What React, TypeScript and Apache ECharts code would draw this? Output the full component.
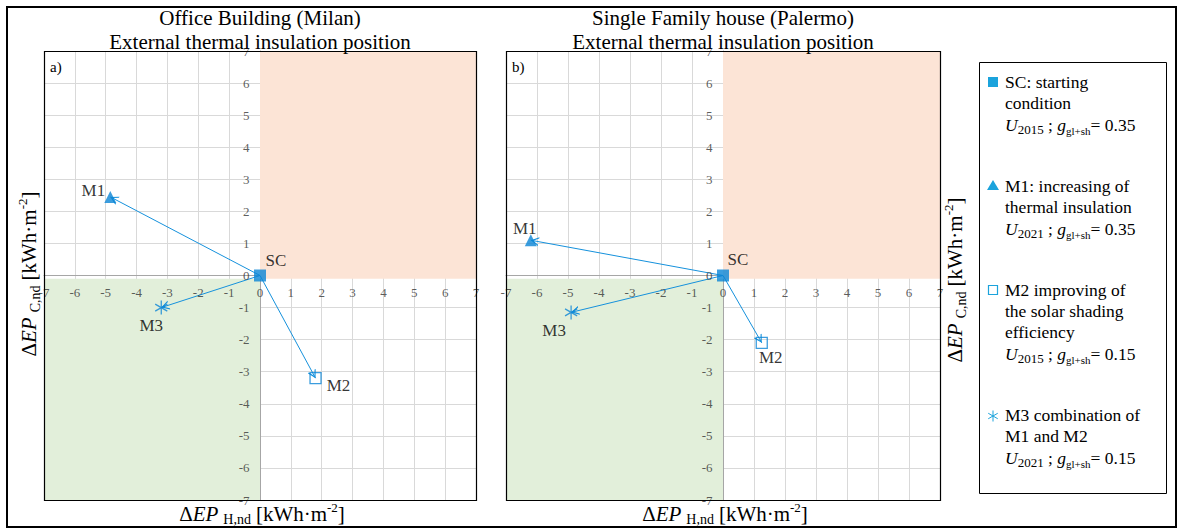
import React, { useEffect, useRef } from 'react';
import * as echarts from 'echarts';

// ---------- data ----------
const pointNames = ['SC', 'M1', 'M2', 'M3'];
const milanX = [0, -4.85, 1.8, -3.2];
const milanY = [0, 2.45, -3.2, -1.0];
const palermoX = [0, -6.2, 1.25, -4.9];
const palermoY = [0, 1.1, -2.1, -1.15];
const axisMin = -7;
const axisMax = 7;
const axisStep = 1;
const tickValues = [-7, -6, -5, -4, -3, -2, -1, 0, 1, 2, 3, 4, 5, 6, 7];
const panelTitles = [
  ['Office Building (Milan)', 'External thermal insulation position'],
  ['Single Family house (Palermo)', 'External thermal insulation position'],
];
const panelTags = ['a)', 'b)'];
const legendTexts = [
  ['SC: starting', 'condition'],
  ['M1: increasing of', 'thermal insulation'],
  ['M2 improving of', 'the solar shading', 'efficiency'],
  ['M3 combination of', 'M1 and M2'],
];
const legendU = ['2015', '2021', '2015', '2021'];
const legendG = ['0.35', '0.35', '0.15', '0.15'];

// ---------- styles / layout ----------
const SERIF = "'Liberation Serif', 'Times New Roman', serif";
const MARK = '#0a84d6';
const LINE = '#1591dc';
const LEG = '#1ba3dc';
const PINK = '#fce4d6';
const GREEN = '#e2efda';

const grids = [
  { left: 44, top: 51, width: 432, height: 449 },
  { left: 506, top: 51, width: 434, height: 449 },
];
const titleCenters = [260, 723];
const labelOffsets = [
  [[16, -15], [-17, -6], [23, 7], [-10, 18]],
  [[15, -16], [-6, -12], [9, 15], [-17, 18]],
];
const yTitlePos = [[29, 274], [955, 280]];
const legendBlockY = [82, 186, 290, 415];

function asteriskPath(r: number, w: number): string {
  const angles = [90, 30, 150];
  let d = '';
  for (const a of angles) {
    const t = (a * Math.PI) / 180;
    const dx = Math.cos(t), dy = Math.sin(t);
    const nx = -dy * (w / 2), ny = dx * (w / 2);
    const p = [
      [r * dx + nx, r * dy + ny],
      [r * dx - nx, r * dy - ny],
      [-r * dx - nx, -r * dy - ny],
      [-r * dx + nx, -r * dy + ny],
    ];
    d += 'M' + p.map((q) => q[0].toFixed(3) + ',' + q[1].toFixed(3)).join(' L') + ' Z ';
  }
  return 'path://' + d;
}

// open arrow head, tip at the centre of a 16x16 box
const ARROW =
  'path://M0,0 L0.01,0 L0,0.01 Z M16,0 L15.99,0 L16,0.01 Z M8,8 L12.5,16 L11.2,16 L8,10.3 L4.8,16 L3.5,16 Z';

const pointSymbols = ['rect', 'triangle', 'rect', asteriskPath(6, 1.1)];
const pointSizes = [12, 12, 11, 14];

const tickLabelStyle = {
  fontSize: 13,
  fontFamily: SERIF,
  color: '#333333',
};

function buildOption(): any {
  const panelsData = [
    [milanX, milanY],
    [palermoX, palermoY],
  ];
  const series: any[] = [];
  const xAxes: any[] = [];
  const yAxes: any[] = [];
  const graphic: any[] = [];

  panelsData.forEach(([xs, ys], p) => {
    const g = grids[p];
    const axisCommon = {
      type: 'value',
      gridIndex: p,
      min: axisMin,
      max: axisMax,
      interval: axisStep,
      axisTick: { show: false },
      axisLabel: { show: false },
      splitLine: { show: true, lineStyle: { color: '#d9d9d9', width: 1 } },
      axisLine: { show: true, onZero: true, lineStyle: { color: '#a6a6a6', width: 1 } },
    };
    xAxes.push({ ...axisCommon });
    yAxes.push({ ...axisCommon });

    // shaded quadrants
    series.push({
      type: 'line',
      xAxisIndex: p,
      yAxisIndex: p,
      data: [[0, 0]],
      showSymbol: false,
      symbol: 'none',
      lineStyle: { width: 0 },
      silent: true,
      z: -1,
      markArea: {
        silent: true,
        data: [
          [{ xAxis: 0, yAxis: -0.1, itemStyle: { color: PINK } }, { xAxis: axisMax, yAxis: axisMax }],
          [{ xAxis: axisMin, yAxis: axisMin, itemStyle: { color: GREEN } }, { xAxis: 0, yAxis: -0.1 }],
        ],
      },
    });

    // tick labels along the zero lines
    series.push({
      type: 'scatter',
      xAxisIndex: p,
      yAxisIndex: p,
      silent: true,
      symbolSize: 1,
      itemStyle: { color: 'rgba(0,0,0,0)' },
      label: { show: true, position: 'bottom', distance: 10, formatter: (d: any) => String(d.value[0]), ...tickLabelStyle },
      z: 3,
      data: tickValues.map((v) => [v, 0]),
    });
    series.push({
      type: 'scatter',
      xAxisIndex: p,
      yAxisIndex: p,
      silent: true,
      symbolSize: 1,
      itemStyle: { color: 'rgba(0,0,0,0)' },
      label: { show: true, position: 'left', distance: 10, formatter: (d: any) => String(d.value[1]), ...tickLabelStyle },
      z: 3,
      data: tickValues.map((v) => [0, v]),
    });

    // arrows from SC to each measure
    series.push({
      type: 'lines',
      coordinateSystem: 'cartesian2d',
      xAxisIndex: p,
      yAxisIndex: p,
      silent: true,
      symbol: ['none', ARROW],
      symbolSize: 16,
      lineStyle: { color: LINE, width: 1, opacity: 1, curveness: 0 },
      data: xs.slice(1).map((x, i) => ({
        coords: [
          [xs[0], ys[0]],
          [x, ys[i + 1]],
        ],
      })),
    });

    // points
    pointNames.forEach((name, i) => {
      const hollow = i === 2;
      series.push({
        type: 'scatter',
        name,
        xAxisIndex: p,
        yAxisIndex: p,
        symbol: pointSymbols[i],
        symbolSize: pointSizes[i],
        symbolKeepAspect: true,
        itemStyle: hollow
          ? { color: 'rgba(255,255,255,0)', borderColor: MARK, borderWidth: 1.3 }
          : { color: MARK },
        label: {
          show: true,
          formatter: name,
          position: 'inside',
          offset: labelOffsets[p][i],
          fontSize: 17,
          fontFamily: SERIF,
          color: '#000',
        },
        z: 4,
        data: [[xs[i], ys[i]]],
      });
    });

    // titles
    panelTitles[p].forEach((t, k) => {
      graphic.push({
        type: 'text',
        x: titleCenters[p],
        y: 18 + k * 24,
        z: 10,
        style: {
          text: t,
          font: `21px ${SERIF}`,
          fill: '#000',
          align: 'center',
          verticalAlign: 'middle',
          textAlign: 'center',
          textVerticalAlign: 'middle',
        },
      });
    });

    // plot border
    graphic.push({
      type: 'rect',
      z: 5,
      silent: true,
      shape: { x: g.left + 0.5, y: g.top + 0.5, width: g.width, height: g.height },
      style: { fill: 'none', stroke: '#000', lineWidth: 1.2 },
    });

    // tag a)/b)
    graphic.push({
      type: 'text',
      x: g.left + 6,
      y: g.top + 16,
      z: 10,
      style: {
        text: panelTags[p],
        font: `15px ${SERIF}`,
        fill: '#000',
        align: 'left',
        verticalAlign: 'middle',
        textAlign: 'left',
        textVerticalAlign: 'middle',
      },
    });

    const richAxis = {
      d: { fontSize: 21, fontFamily: SERIF, fill: '#000', lineHeight: 26 },
      i: { fontSize: 21, fontFamily: SERIF, fontStyle: 'italic', fill: '#000', lineHeight: 26 },
      s: { fontSize: 14, fontFamily: SERIF, fill: '#000', verticalAlign: 'bottom', lineHeight: 26, padding: [0, 5, 0, 5] },
      p: { fontSize: 13, fontFamily: SERIF, fill: '#000', verticalAlign: 'top', lineHeight: 26 },
    };

    // x axis title
    graphic.push({
      type: 'text',
      x: titleCenters[p] + 2,
      y: 513.5,
      z: 10,
      style: {
        text: '{d|Δ}{i|EP}{s|H,nd}{d|[kWh·m}{p|-2}{d|]}',
        rich: richAxis,
        align: 'center',
        verticalAlign: 'middle',
        textAlign: 'center',
        textVerticalAlign: 'middle',
      },
    });
    // y axis title
    graphic.push({
      type: 'text',
      x: yTitlePos[p][0],
      y: yTitlePos[p][1],
      rotation: Math.PI / 2,
      z: 10,
      style: {
        text: '{d|Δ}{i|EP}{s|C,nd}{d|[kWh·m}{p|-2}{d|]}',
        rich: richAxis,
        align: 'center',
        verticalAlign: 'middle',
        textAlign: 'center',
        textVerticalAlign: 'middle',
      },
    });
  });

  // outer frame
  graphic.push({
    type: 'rect',
    z: 20,
    silent: true,
    shape: { x: 7, y: 7, width: 1169, height: 520 },
    style: { fill: 'none', stroke: '#000', lineWidth: 2 },
  });

  // legend box
  graphic.push({
    type: 'rect',
    z: 10,
    silent: true,
    shape: { x: 979.5, y: 62.5, width: 187, height: 431 },
    style: { fill: '#fff', stroke: '#000', lineWidth: 1 },
  });

  const richLeg = {
    n: { fontSize: 17.5, fontFamily: SERIF, fill: '#000', lineHeight: 22 },
    it: { fontSize: 17.5, fontFamily: SERIF, fontStyle: 'italic', fill: '#000', lineHeight: 22 },
    sub: { fontSize: 13, fontFamily: SERIF, fill: '#000', verticalAlign: 'bottom', lineHeight: 22 },
    sub2: { fontSize: 11, fontFamily: SERIF, fill: '#000', verticalAlign: 'bottom', lineHeight: 22 },
  };

  legendTexts.forEach((lines, b) => {
    const y0 = legendBlockY[b];
    const allLines = lines.map((l) => `{n|${l}}`);
    allLines.push(`{it|U}{sub|${legendU[b]}}{n| ; }{it|g}{sub2|gl+sh}{n|= ${legendG[b]}}`);
    allLines.forEach((l, k) => {
      graphic.push({
        type: 'text',
        x: 1005,
        y: y0 + k * 21 + (k === allLines.length - 1 ? 1 : 0),
        z: 12,
        style: {
          text: l,
          rich: richLeg,
          align: 'left',
          verticalAlign: 'middle',
          textAlign: 'left',
          textVerticalAlign: 'middle',
        },
      });
    });
  });

  // legend markers
  const mx = 993;
  graphic.push({
    type: 'rect', z: 12,
    shape: { x: mx - 5, y: legendBlockY[0] - 5, width: 10, height: 10 },
    style: { fill: LEG },
  });
  graphic.push({
    type: 'polygon', z: 12,
    shape: { points: [[mx, legendBlockY[1] - 6], [mx + 6, legendBlockY[1] + 4], [mx - 6, legendBlockY[1] + 4]] },
    style: { fill: LEG },
  });
  graphic.push({
    type: 'rect', z: 12,
    shape: { x: mx - 4.5, y: legendBlockY[2] - 4.5, width: 9, height: 9 },
    style: { fill: 'none', stroke: LEG, lineWidth: 1.2 },
  });
  [90, 30, 150].forEach((a) => {
    const t = (a * Math.PI) / 180;
    const r = 5.5;
    const cy = legendBlockY[3] + 1;
    graphic.push({
      type: 'line', z: 12,
      shape: { x1: mx - r * Math.cos(t), y1: cy - r * Math.sin(t), x2: mx + r * Math.cos(t), y2: cy + r * Math.sin(t) },
      style: { stroke: LEG, lineWidth: 1 },
    });
  });

  return {
    animation: false,
    backgroundColor: '#fff',
    grid: grids.map((g) => ({ ...g, show: false, containLabel: false })),
    xAxis: xAxes,
    yAxis: yAxes,
    series,
    graphic,
  };
}

export default function App() {
  const ref = useRef<HTMLDivElement>(null);
  useEffect(() => {
    document.body.style.margin = '0';
    const chart = echarts.init(ref.current as HTMLDivElement, null, { renderer: 'svg' });
    chart.setOption(buildOption());
    return () => chart.dispose();
  }, []);
  return <div ref={ref} style={{ width: 1180, height: 528 }} />;
}
